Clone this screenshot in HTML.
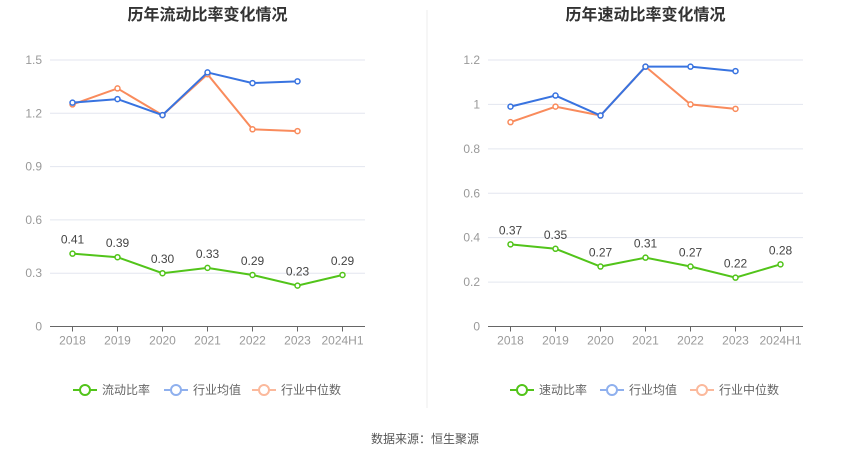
<!DOCTYPE html>
<html><head><meta charset="utf-8"><style>
body{margin:0;background:#fff;width:850px;height:459px;overflow:hidden;font-family:"Liberation Sans","Noto Sans CJK SC",sans-serif;}
</style></head><body>
<svg id="svg" width="850" height="459" xmlns="http://www.w3.org/2000/svg" style="font-family:'Liberation Sans','Noto Sans CJK SC',sans-serif">
<line x1="427" y1="10" x2="427" y2="408" stroke="#eee"/>
<text x="425" y="443" text-anchor="middle" font-size="12" fill="#555">数据来源：恒生聚源</text>
</svg>
<script>
const categories=["2018","2019","2020","2021","2022","2023","2024H1"];
const leftCompany=[0.41,0.39,0.30,0.33,0.29,0.23,0.29];
const leftMean=[1.26,1.28,1.19,1.43,1.37,1.38];
const leftMedian=[1.25,1.34,1.19,1.42,1.11,1.10];
const leftTicks=[0,0.3,0.6,0.9,1.2,1.5];
const rightCompany=[0.37,0.35,0.27,0.31,0.27,0.22,0.28];
const rightMean=[0.99,1.04,0.95,1.17,1.17,1.15];
const rightMedian=[0.92,0.99,0.95,1.17,1.00,0.98];
const rightTicks=[0,0.2,0.4,0.6,0.8,1,1.2];

const svg=document.getElementById('svg');
const NS='http://www.w3.org/2000/svg';
function mk(tag,attrs,parent){const e=document.createElementNS(NS,tag);for(const k in attrs)e.setAttribute(k,attrs[k]);(parent||svg).appendChild(e);return e;}

function panel(p,title,name,company,mean,median,ticks,fmt){
  const g=mk('g',{});
  
  
  const x0=p==='left'?50:488, x1=x0+315, yb=326.5, yt=60;
  const maxV=ticks[ticks.length-1];
  const bw=(x1-x0)/categories.length;
  const X=i=>x0+bw*(i+0.5);
  const Y=v=>yb-(v/maxV)*(yb-yt);
  const t=mk('text',{x:(x0+x1)/2,y:20,'text-anchor':'middle','font-size':'16','font-weight':'bold',fill:'#333'},g);
  t.textContent=title;
  
  
  ticks.forEach(v=>{
    if(v>0){const l=mk('line',{x1:x0,x2:x1,y1:Y(v),y2:Y(v),stroke:'#e3e6ef'},g);
      
      }
    const tx=mk('text',{x:x0-8,y:Y(v)+4,'text-anchor':'end','font-size':'12',fill:'#999'},g);
    tx.textContent=fmt(v);
    
    
  });
  const ax=mk('line',{x1:x0,x2:x1,y1:yb,y2:yb,stroke:'#666'},g);
  
  
  categories.forEach((c,i)=>{
    const tk=mk('line',{x1:X(i),x2:X(i),y1:yb,y2:yb+5,stroke:'#666'},g);
    
    
    const tx=mk('text',{x:X(i),y:yb+18,'text-anchor':'middle','font-size':'12',fill:'#999'},g);
    tx.textContent=c;
    
    
  });
  function series(vals,color,sname,labels){
    const pl=mk('polyline',{points:vals.map((v,i)=>X(i)+','+Y(v)).join(' '),fill:'none',stroke:color,'stroke-width':'2'},g);
    
    
    vals.forEach((v,i)=>{
      const c=mk('circle',{cx:X(i),cy:Y(v),r:2.5,fill:'#fff',stroke:color,'stroke-width':'1.5'},g);
      
      
      if(labels){const l=mk('text',{x:X(i),y:Y(v)-10,'text-anchor':'middle','font-size':'12',fill:'#444'},g);
        l.textContent=v.toFixed(2);
        
        }
    });
  }
  series(median,'#f98b5c','median');
  series(mean,'#3873e0','mean');
  series(company,'#52c41a','company',true);
  const legs=[[name,'#52c41a'],['行业均值','#8fb0ee'],['行业中位数','#fbb99c']];
  const starts=p==='left'?[73,164,252]:[510,600,690];
  legs.forEach((L,i)=>{
    const lg=mk('g',{},g);
    
    
    const sx=starts[i];
    mk('line',{x1:sx,x2:sx+24,y1:390,y2:390,stroke:L[1],'stroke-width':'2'},lg);
    mk('circle',{cx:sx+12,cy:390,r:5,fill:'#fff',stroke:L[1],'stroke-width':'2'},lg);
    const tx=mk('text',{x:sx+29,y:394,'font-size':'12',fill:'#666'},lg);
    tx.textContent=L[0];
  });
}
panel('left','历年流动比率变化情况','流动比率',leftCompany,leftMean,leftMedian,leftTicks,v=>v===0?'0':v.toFixed(1));
panel('right','历年速动比率变化情况','速动比率',rightCompany,rightMean,rightMedian,rightTicks,v=>String(+v.toFixed(1)));
</script>
</body></html>
